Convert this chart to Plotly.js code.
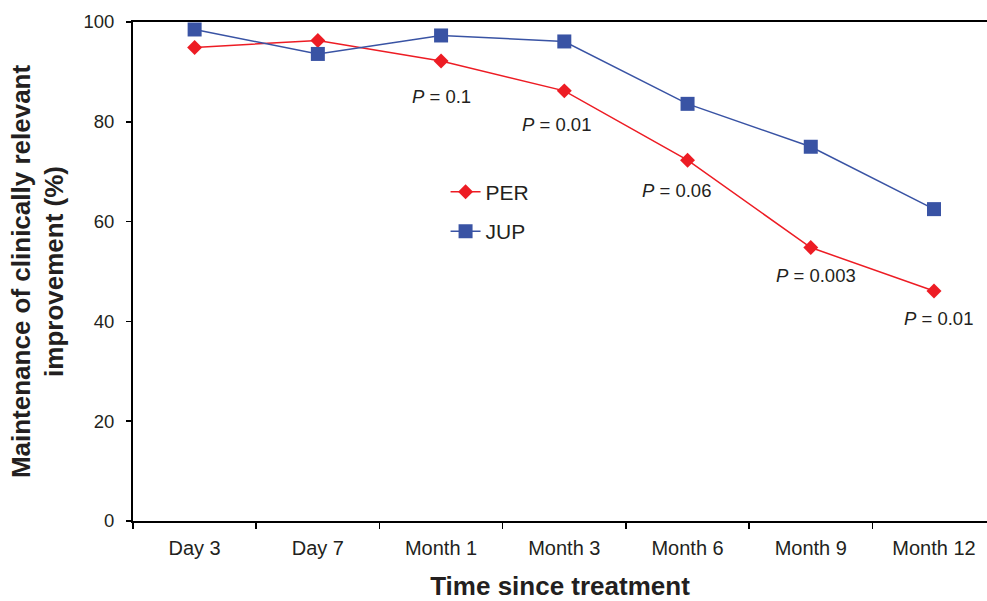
<!DOCTYPE html>
<html>
<head>
<meta charset="utf-8">
<script src="https://cdn.plot.ly/plotly-3.0.1.min.js"></script>
<style>html,body{margin:0;padding:0;background:#fff;}#chart{width:987px;height:601px;}</style>
</head>
<body>
<div id="chart"></div>
<script>
const categories = ["Day 3", "Day 7", "Month 1", "Month 3", "Month 6", "Month 9", "Month 12"];
const perValues = [94.9, 96.3, 92.2, 86.2, 72.3, 54.8, 46.1];
const jupValues = [98.5, 93.6, 97.3, 96.1, 83.6, 75.0, 62.5];
const pLabels = ["P = 0.1", "P = 0.01", "P = 0.06", "P = 0.003", "P = 0.01"];
const pCategories = ["Month 1", "Month 3", "Month 6", "Month 9", "Month 12"];
const pLabelY = [85.0, 79.5, 66.3, 49.1, 40.5];
const pLabelShift = [0, -8, -11, 5, 4];
const yTicks = [0, 20, 40, 60, 80, 100];

const textColor = "#231f20";
const fontFam = "Liberation Sans, Arial, sans-serif";

const traces = [
  {
    x: categories, y: perValues, name: "PER", type: "scatter", mode: "lines+markers",
    line: {color: "#ed1c24", width: 1.5},
    marker: {symbol: "diamond", size: 11.5, color: "#ed1c24"},
    legendgroup: "a"
  },
  {
    x: categories, y: jupValues, name: "JUP", type: "scatter", mode: "lines+markers",
    line: {color: "#3953a4", width: 1.5},
    marker: {symbol: "square", size: 14, color: "#3953a4"},
    legendgroup: "b"
  }
];

const annotations = pLabels.map((t, i) => ({
  x: pCategories[i], y: pLabelY[i], xref: "x", yref: "y",
  text: t.replace(/^P/, "<i>P</i>"), showarrow: false,
  xshift: pLabelShift[i],
  font: {family: fontFam, size: 18.5, color: textColor}
}));

const layout = {
  width: 987, height: 601,
  margin: {l: 133, r: 0, t: 22, b: 80},
  paper_bgcolor: "#fff", plot_bgcolor: "#fff",
  font: {family: fontFam, size: 18, color: textColor},
  showlegend: true,
  legend: {
    x: 0.366, y: 0.70, xanchor: "left", yanchor: "top",
    traceorder: "grouped", tracegroupgap: 9,
    font: {family: fontFam, size: 21, color: textColor},
    bgcolor: "rgba(0,0,0,0)"
  },
  xaxis: {
    type: "category", categoryorder: "array", categoryarray: categories,
    range: [-0.5, 6.43],
    showline: true, linecolor: "#000", linewidth: 2, mirror: true,
    ticks: "outside", tickson: "boundaries", ticklen: 6, tickcolor: "#000", tickwidth: 1.5,
    ticklabelstandoff: 8,
    showgrid: false, zeroline: false,
    tickfont: {family: fontFam, size: 20, color: textColor},
    title: {text: "Time since treatment", font: {family: fontFam, size: 26, color: textColor, weight: "bold"}, standoff: 20}
  },
  yaxis: {
    range: [0, 100], tickvals: yTicks, ticktext: yTicks.map(String),
    showline: true, linecolor: "#000", linewidth: 2,
    ticks: "outside", ticklen: 5, tickcolor: "#000", tickwidth: 1.5,
    ticklabelstandoff: 8,
    showgrid: false, zeroline: false,
    tickfont: {family: fontFam, size: 18.5, color: textColor},
    title: {text: "Maintenance of clinically relevant<br>improvement (%)", font: {family: fontFam, size: 26, color: textColor, weight: "bold"}, standoff: 12}
  },
  annotations: annotations
};

Plotly.newPlot("chart", traces, layout, {displayModeBar: false, staticPlot: true});
</script>
</body>
</html>
